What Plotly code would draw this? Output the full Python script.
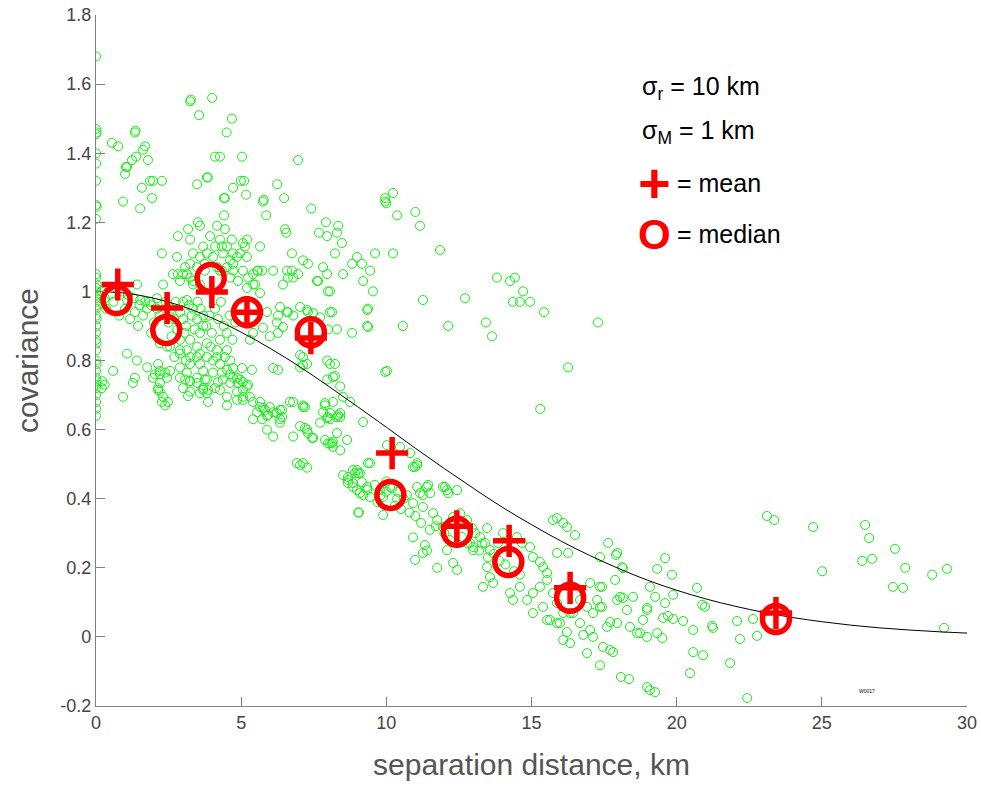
import plotly.graph_objects as go

# ---- scatter of individual covariance estimates (separation km, covariance) ----
pts = [
    # column at ~0 km
    (0.0, 1.68), (0.0, 1.47), (0.02, 1.46), (0.0, 1.455), (0.0, 1.40), (0.0, 1.37), (0.0, 1.32),
    (0.0, 1.25), (0.02, 1.245), (0.0, 1.21), (0.0, 1.05), (0.0, 1.04), (0.02, 1.02), (0.0, 1.01),
    (0.0, 1.00), (0.02, 0.99), (0.0, 0.98), (0.0, 0.97), (0.02, 0.96), (0.0, 0.95), (0.0, 0.93),
    (0.02, 0.92), (0.0, 0.90), (0.0, 0.88), (0.0, 0.86), (0.02, 0.85), (0.0, 0.83), (0.0, 0.80),
    (0.02, 0.79), (0.0, 0.77), (0.0, 0.75), (0.02, 0.74), (0.0, 0.73), (0.0, 0.72), (0.0, 0.70),
    (0.0, 0.68), (0.0, 0.66), (0.0, 0.64), (0.3, 0.73), (0.22, 0.74), (0.2, 0.72), (0.3, 0.98),
    (0.2, 1.0), (0.35, 0.95),
    # upper-left group
    (0.55, 1.43), (0.76, 1.42), (1.34, 1.46), (1.36, 1.465), (1.03, 1.36), (1.0, 1.34), (1.24, 1.38),
    (1.38, 1.39), (1.62, 1.41), (1.69, 1.42), (1.79, 1.38), (1.58, 1.30), (1.86, 1.32), (1.96, 1.32),
    (1.93, 1.27), (1.52, 1.24), (0.93, 1.26), (2.27, 1.32), (1.07, 1.36),
    # upper scattered
    (3.24, 1.55), (3.27, 1.555), (3.55, 1.51), (4.0, 1.56), (4.68, 1.50), (4.5, 1.46), (4.1, 1.39),
    (4.27, 1.39), (5.03, 1.39), (3.82, 1.33), (3.85, 1.33), (3.48, 1.31), (4.72, 1.30), (4.99, 1.32),
    (5.1, 1.32), (5.17, 1.28), (4.41, 1.27), (4.41, 1.22), (5.75, 1.26), (5.78, 1.265), (5.86, 1.22),
    (6.24, 1.31), (6.48, 1.27), (6.96, 1.38), (7.41, 1.24), (6.51, 1.18), (7.92, 1.20), (7.68, 1.17),
    (7.96, 1.16), (8.34, 1.19), (8.3, 1.17), (8.47, 1.14), (6.55, 1.17), (9.61, 1.11), (9.96, 1.27),
    (8.23, 1.11), (8.99, 1.10), (8.82, 1.08), (6.75, 1.11), (7.13, 1.09), (7.3, 1.08), (7.82, 1.07),
    (7.96, 1.05), (8.51, 1.05), (9.16, 1.08), (9.44, 1.06), (9.2, 1.03), (9.54, 1.00), (7.65, 1.03),
    (7.99, 1.00), (6.75, 1.06), (6.96, 1.05), (6.1, 1.06), (6.44, 1.02), (6.61, 1.04), (9.37, 0.95),
    (8.06, 0.94), (8.13, 0.94), (7.3, 0.94), (6.58, 0.94), (6.27, 0.93), (4.44, 1.27),
    # right scattered
    (10.23, 1.285), (9.96, 1.26), (10.0, 1.255), (10.37, 1.22), (11.0, 1.23), (11.16, 1.19),
    (10.23, 1.11), (11.85, 1.12), (11.26, 0.975), (12.71, 0.98), (13.81, 1.04), (14.26, 1.03),
    (14.43, 1.04), (14.71, 1.00), (14.36, 0.97), (14.6, 0.97), (14.95, 0.97), (15.43, 0.94),
    (10.57, 0.90), (12.13, 0.90), (13.43, 0.91), (17.29, 0.91), (13.64, 0.87), (16.26, 0.78),
    (15.3, 0.66), (10.02, 0.77),
    # dense group 2.6-6 km, 1.0-1.2
    (3.51, 1.20), (3.58, 1.19), (4.17, 1.19), (4.44, 1.18), (3.17, 1.18), (2.82, 1.16), (3.24, 1.15),
    (3.93, 1.16), (4.27, 1.15), (4.68, 1.15), (5.06, 1.14), (5.2, 1.15), (5.65, 1.13), (3.69, 1.13),
    (4.1, 1.13), (4.34, 1.13), (4.51, 1.13), (4.72, 1.11), (4.96, 1.11), (5.13, 1.13), (3.34, 1.11),
    (3.58, 1.10), (3.82, 1.11), (4.03, 1.10), (4.37, 1.11), (4.62, 1.09), (4.86, 1.10), (5.2, 1.10),
    (2.27, 1.11), (2.79, 1.10), (3.24, 1.08), (3.07, 1.07), (3.48, 1.07), (3.75, 1.08), (4.17, 1.07),
    (4.51, 1.07), (4.72, 1.08), (5.06, 1.06), (5.41, 1.05), (5.58, 1.06), (5.72, 1.06), (2.65, 1.05),
    (2.82, 1.05), (3.0, 1.05), (3.24, 1.04), (3.75, 1.06), (3.34, 1.02), (3.58, 1.02), (4.34, 1.06),
    (4.62, 1.04), (4.89, 1.03), (5.24, 1.04), (5.48, 1.02), (1.41, 1.02),
    # 0-9 km, 0.55-1.05
    (2.31, 1.02), (1.07, 0.975), (1.52, 0.975), (1.86, 0.97), (1.34, 0.94), (1.62, 0.93), (1.76, 0.95),
    (2.1, 0.95), (1.17, 0.92), (1.45, 0.90), (2.89, 1.03), (3.13, 1.05), (3.34, 1.03), (3.13, 0.975),
    (3.34, 0.95), (3.0, 0.92), (3.48, 0.92), (3.69, 0.90), (3.99, 0.88), (3.58, 0.88), (3.24, 0.86),
    (2.89, 0.86), (2.45, 0.84), (2.2, 0.85), (2.89, 0.83), (3.48, 0.84), (3.82, 0.85), (4.27, 0.86),
    (4.17, 0.83), (4.51, 0.83), (3.48, 0.81), (3.82, 0.81), (3.24, 0.79), (3.58, 0.79), (4.03, 0.80),
    (4.27, 0.79), (4.62, 0.80), (1.07, 0.82), (0.59, 0.77), (1.41, 0.80), (1.76, 0.78), (1.34, 0.75),
    (1.27, 0.735), (0.93, 0.695), (1.96, 0.75), (2.2, 0.77), (2.45, 0.75), (2.2, 0.735), (2.14, 0.715),
    (2.31, 0.695), (2.27, 0.68), (2.38, 0.67), (2.48, 0.68), (2.89, 0.75), (3.24, 0.74), (3.0, 0.72),
    (3.48, 0.735), (3.82, 0.745), (4.03, 0.765), (3.24, 0.71), (3.69, 0.715), (3.82, 0.705),
    (3.86, 0.68), (4.37, 0.745), (4.27, 0.715), (4.62, 0.735), (4.72, 0.75), (4.51, 0.695),
    (4.96, 0.745), (5.2, 0.725), (5.06, 0.695), (5.41, 0.68), (5.65, 0.665), (5.82, 0.657),
    (5.55, 0.65), (5.89, 0.64), (5.72, 0.63), (6.1, 0.65), (6.34, 0.657), (6.34, 0.63), (6.44, 0.897),
    (6.79, 0.93), (6.23, 0.91), (5.75, 0.895), (5.41, 0.88), (5.3, 0.86), (5.99, 0.87), (6.27, 0.88),
    (5.89, 0.94), (6.34, 0.955), (6.61, 0.94), (7.03, 0.955), (7.72, 0.925), (7.99, 0.89), (8.3, 0.89),
    (8.82, 0.88), (9.34, 0.90), (9.34, 0.946), (8.06, 1.00), (7.61, 1.03), (6.79, 1.04), (6.58, 1.06),
    (5.55, 1.06), (5.2, 1.01), (5.41, 1.02), (5.65, 0.995), (4.72, 1.06), (4.27, 1.06), (7.27, 0.946),
    (7.48, 0.937), (7.03, 0.78), (7.13, 0.81), (7.27, 0.79), (7.96, 0.80), (8.06, 0.79), (8.23, 0.755),
    (7.96, 0.745), (8.41, 0.725), (8.51, 0.695), (8.16, 0.68), (8.75, 0.68), (9.2, 0.622),
    (8.41, 0.636), (7.96, 0.633), (7.72, 0.62), (7.27, 0.60), (7.03, 0.61), (6.68, 0.68), (7.13, 0.67),
    (6.34, 0.62), (6.79, 0.58), (6.1, 0.58), (5.89, 0.60), (5.41, 0.63), (8.3, 0.59), (8.16, 0.565),
    (7.99, 0.56), (8.65, 0.57),
    (2.14, 0.79), (2.03, 0.76), (2.2, 0.76), (2.38, 0.765), (2.55, 0.77), (2.14, 0.72), (2.2, 0.71),
    (2.89, 0.82), (3.13, 0.83), (3.24, 0.81), (3.58, 0.82), (2.89, 0.78), (3.13, 0.765), (3.07, 0.745),
    (3.24, 0.74), (3.48, 0.75), (3.69, 0.77), (3.75, 0.745), (3.69, 0.72), (3.86, 0.715), (3.58, 0.705),
    (3.17, 0.697), (4.1, 0.72), (4.2, 0.737), (4.34, 0.765), (4.51, 0.773), (4.44, 0.81), (4.17, 0.81),
    (4.62, 0.76), (4.86, 0.75), (4.89, 0.735), (5.06, 0.738), (5.24, 0.73), (5.06, 0.715), (4.86, 0.71),
    (4.51, 0.67), (4.86, 0.686), (5.06, 0.686), (5.3, 0.695), (5.37, 0.773), (5.03, 0.778),
    (4.72, 0.778), (5.65, 0.68), (5.75, 0.663), (5.92, 0.642), (5.99, 0.665), (6.23, 0.648),
    (6.41, 0.657), (6.41, 0.636), (6.79, 0.68), (7.13, 0.665), (7.44, 0.576), (7.89, 0.57),
    (8.06, 0.56), (8.16, 0.55), (8.41, 0.54), (7.89, 0.67), (7.82, 0.65), (7.99, 0.636), (8.06, 0.63),
    (8.34, 0.642), (8.41, 0.648), (6.92, 0.503), (7.03, 0.497), (7.27, 0.49), (8.51, 0.468),
    (8.68, 0.463), (8.68, 0.445), (8.92, 0.474), (8.99, 0.483), (9.09, 0.474), (9.37, 0.503),
    (8.85, 0.434), (8.99, 0.425), (9.09, 0.416), (9.2, 0.41), (9.44, 0.405), (9.34, 0.425),
    (9.06, 0.36), (9.89, 0.353), (10.02, 0.555), (6.1, 0.778), (6.27, 0.773), (7.03, 0.816),
    (7.13, 0.787), (8.23, 0.79), (8.16, 0.752), (9.37, 0.897), (9.96, 0.767),
    # extra dense near curve
    (2.6, 0.95), (2.7, 0.92), (2.9, 0.94), (3.0, 0.97), (3.1, 0.90), (3.3, 0.93), (3.4, 0.89),
    (3.6, 0.95), (3.7, 0.93), (3.8, 0.90), (4.1, 0.95), (4.2, 0.92), (4.4, 0.90), (4.6, 0.93),
    (4.8, 0.91), (2.4, 0.97), (2.2, 0.93), (2.0, 0.91), (1.9, 0.88), (2.6, 0.87), (2.8, 0.89),
    (0.5, 0.99), (0.6, 0.97), (0.9, 1.0), (1.1, 0.99), (1.3, 0.98), (1.5, 0.96), (1.7, 0.97),
    (1.9, 0.96), (2.1, 0.98), (1.0, 0.95), (0.8, 0.93),
    (2.5, 0.91), (2.75, 0.97), (3.05, 0.88), (3.2, 0.96), (3.5, 0.97), (3.9, 0.93), (4.3, 0.97),
    (4.5, 0.88), (4.7, 0.86), (3.95, 0.84), (3.1, 0.80), (2.7, 0.81), (2.55, 0.84),
    # 7-19 km band
    (7.2, 0.665), (7.89, 0.677), (8.06, 0.648), (8.3, 0.636), (7.2, 0.605), (7.3, 0.59), (7.48, 0.576),
    (8.13, 0.56), (7.13, 0.503), (8.85, 0.483), (9.03, 0.474), (8.68, 0.454), (8.85, 0.445),
    (9.16, 0.448), (9.34, 0.434), (9.44, 0.503), (9.03, 0.36), (9.78, 0.425), (10.13, 0.434),
    (10.37, 0.40), (9.89, 0.405), (10.71, 0.41), (11.06, 0.434), (10.99, 0.492), (11.06, 0.503),
    (11.4, 0.434), (11.51, 0.416), (10.92, 0.387), (11.26, 0.376), (10.92, 0.288), (10.99, 0.223),
    (11.33, 0.266), (11.4, 0.25), (11.26, 0.243), (11.75, 0.20), (11.95, 0.434), (12.09, 0.425),
    (11.61, 0.358), (11.75, 0.338), (11.95, 0.318), (12.3, 0.347), (12.54, 0.358), (12.78, 0.338),
    (12.95, 0.315), (13.06, 0.30), (13.23, 0.289), (13.47, 0.315), (13.4, 0.272), (12.88, 0.272),
    (12.99, 0.251), (12.44, 0.194), (12.3, 0.214), (12.09, 0.251), (13.57, 0.251), (13.85, 0.272),
    (14.02, 0.30), (14.5, 0.289), (14.67, 0.272), (14.95, 0.26), (15.05, 0.231), (15.29, 0.217),
    (15.4, 0.202), (15.54, 0.185), (13.47, 0.202), (13.57, 0.173), (13.68, 0.156), (13.33, 0.145),
    (14.26, 0.127), (14.36, 0.107), (14.6, 0.145), (14.85, 0.107), (15.05, 0.127), (15.29, 0.145),
    (15.54, 0.165), (15.74, 0.127), (15.88, 0.098), (16.09, 0.069), (15.4, 0.087), (15.05, 0.069),
    (15.54, 0.049), (15.98, 0.04), (15.74, 0.338), (15.88, 0.344), (16.22, 0.318), (16.5, 0.295),
    (15.88, 0.243), (16.26, 0.243), (17.36, 0.231), (17.43, 0.145), (17.64, 0.272), (17.95, 0.243),
    (18.12, 0.202), (17.88, 0.165), (18.05, 0.116), (18.29, 0.078), (18.5, 0.116), (18.39, 0.029),
    (17.95, 0.04), (17.6, 0.029), (17.12, 0.069), (16.91, 0.087), (16.67, 0.107), (17.36, 0.087),
    (18.84, 0.049), (18.98, 0.078), (18.74, 0.011), (17.02, 0.02), (16.43, 0.069),
    (10.0, 0.42), (10.3, 0.38), (10.5, 0.37), (10.8, 0.36), (11.0, 0.35), (11.2, 0.33), (11.5, 0.31),
    (11.7, 0.32), (12.0, 0.30), (12.2, 0.28), (12.6, 0.29), (12.8, 0.27), (13.0, 0.26), (13.2, 0.25),
    (13.3, 0.27), (13.5, 0.23), (13.7, 0.24), (13.9, 0.22), (14.1, 0.21), (14.4, 0.19), (14.6, 0.18),
    (9.6, 0.44), (9.8, 0.41), (10.0, 0.45), (10.2, 0.43), (10.4, 0.42), (10.6, 0.40), (9.7, 0.39),
    (10.47, 0.55), (10.82, 0.532), (10.92, 0.492), (11.06, 0.497), (11.44, 0.44), (12.02, 0.434),
    (12.44, 0.425), (12.13, 0.416), (11.16, 0.416), (11.26, 0.41),
    # 16-30 km
    (16.09, 0.33), (17.91, 0.237), (18.15, 0.199), (19.6, 0.228), (19.33, 0.197), (19.84, 0.18),
    (20.7, 0.142), (20.88, 0.093), (20.98, 0.087), (19.88, 0.122), (19.6, 0.098), (19.26, 0.116),
    (19.08, 0.145), (19.53, 0.055), (19.7, 0.061), (19.88, 0.052), (20.22, 0.046), (20.57, 0.02),
    (21.22, 0.032), (21.25, 0.026), (22.08, 0.046), (22.63, 0.052), (22.77, 0.003), (22.18, -0.006),
    (20.57, -0.044), (20.91, -0.053), (21.84, -0.076), (20.46, -0.105), (22.43, -0.177),
    (23.11, 0.35), (23.36, 0.338), (24.7, 0.318), (25.01, 0.19), (26.49, 0.324), (26.63, 0.286),
    (26.39, 0.22), (26.73, 0.226), (27.52, 0.255), (27.87, 0.2), (27.45, 0.145), (27.8, 0.142),
    (28.8, 0.18), (29.31, 0.197), (29.21, 0.026), (16.09, -0.009), (16.33, -0.018), (16.91, -0.047),
    (17.36, -0.082), (18.08, -0.116), (18.36, -0.122), (18.98, -0.145), (19.08, -0.154),
    (19.26, -0.16), (17.71, -0.038), (17.81, -0.044), (17.46, -0.029), (17.12, 0.0), (16.78, 0.006),
    (16.22, 0.014), (16.67, 0.04), (16.33, 0.069), (15.88, 0.04), (15.64, 0.049), (18.98, 0.084),
    (18.64, 0.011), (18.98, 0.0), (19.5, -0.003), (19.33, 0.011), (17.71, 0.043), (17.43, 0.087),
    (17.26, 0.107), (17.95, 0.107), (18.15, 0.113), (17.36, 0.145), (17.02, 0.156),
]
sep_km = [p[0] for p in pts]
cov = [p[1] for p in pts]

# ---- model curve (sigma_r = 10 km), values read at 1 km steps ----
model_x = list(range(0, 31))
model_y = [1.0, 0.995, 0.980, 0.956, 0.923, 0.882, 0.835, 0.783, 0.726, 0.667, 0.607,
           0.546, 0.487, 0.430, 0.375, 0.325, 0.278, 0.236, 0.198, 0.164, 0.135,
           0.110, 0.089, 0.071, 0.056, 0.044, 0.034, 0.026, 0.020, 0.015, 0.011]

# ---- binned mean and median ----
bin_x_mean = [0.75, 2.45, 3.99, 5.2, 7.4, 10.2, 12.43, 14.23, 16.33, 23.42]
mean_y = [1.02, 0.952, 0.998, 0.94, 0.865, 0.532, 0.32, 0.278, 0.142, 0.069]
bin_x_median = [0.71, 2.42, 3.95, 5.2, 7.4, 10.14, 12.43, 14.2, 16.33, 23.42]
median_y = [0.975, 0.888, 1.039, 0.94, 0.882, 0.411, 0.304, 0.217, 0.113, 0.052]

x_ticks = [0, 5, 10, 15, 20, 25, 30]
y_ticks = [-0.2, 0, 0.2, 0.4, 0.6, 0.8, 1.0, 1.2, 1.4, 1.6, 1.8]
y_tick_text = ["-0.2", "0", "0.2", "0.4", "0.6", "0.8", "1", "1.2", "1.4", "1.6", "1.8"]

FONT = "Liberation Sans, Arial, sans-serif"
RED = "#ff0000"

fig = go.Figure()
fig.add_trace(go.Scatter(
    x=sep_km, y=cov, mode="markers",
    marker=dict(symbol="circle-open", size=9, color="#11ee11", line=dict(width=1, color="#11ee11")),
    showlegend=False, hoverinfo="skip"))
fig.add_trace(go.Scatter(
    x=model_x, y=model_y, mode="lines", line=dict(color="black", width=1, shape="spline"),
    showlegend=False, hoverinfo="skip"))
fig.add_trace(go.Scatter(
    x=bin_x_median, y=median_y, mode="markers",
    marker=dict(symbol="circle-open", size=27, color=RED, line=dict(width=5.5, color=RED)),
    showlegend=False))
fig.add_trace(go.Scatter(
    x=bin_x_mean, y=mean_y, mode="markers",
    marker=dict(symbol="cross-thin-open", size=23, color=RED, line=dict(width=5.5, color=RED)),
    showlegend=False))

axis_common = dict(
    showline=True, linecolor="#808080", linewidth=1.3, mirror=False,
    ticks="inside", ticklen=9, tickcolor="#808080", tickwidth=1.2,
    showgrid=False, zeroline=False, automargin=False,
    tickfont=dict(family=FONT, size=18, color="#444444"),
)

fig.update_layout(
    width=981, height=788,
    margin=dict(l=96, r=14, t=15, b=82),
    paper_bgcolor="white", plot_bgcolor="white",
    xaxis=dict(range=[0, 30], tickvals=x_ticks, ticktext=[str(v) for v in x_ticks],
               title=dict(text="separation distance, km", standoff=22,
                          font=dict(family=FONT, size=30, color="#555555")),
               **axis_common),
    yaxis=dict(range=[-0.2, 1.8], tickvals=y_ticks, ticktext=y_tick_text,
               title=dict(text="covariance", standoff=12,
                          font=dict(family=FONT, size=30, color="#555555")),
               **axis_common),
    showlegend=False,
)

ann_font = dict(family=FONT, size=25, color="black")
fig.add_annotation(xref="paper", yref="paper", x=0.625, y=0.894, xanchor="left", yanchor="middle",
                   text="σ<sub>r</sub> = 10 km", showarrow=False, font=ann_font)
fig.add_annotation(xref="paper", yref="paper", x=0.625, y=0.831, xanchor="left", yanchor="middle",
                   text="σ<sub>M</sub> = 1 km", showarrow=False, font=ann_font)
fig.add_annotation(xref="paper", yref="paper", x=0.62, y=0.757, xanchor="left", yanchor="middle",
                   text="<b>+</b>", showarrow=False, font=dict(family=FONT, size=56, color=RED))
fig.add_annotation(xref="paper", yref="paper", x=0.665, y=0.757, xanchor="left", yanchor="middle",
                   text="= mean", showarrow=False, font=ann_font)
fig.add_annotation(xref="paper", yref="paper", x=0.62, y=0.683, xanchor="left", yanchor="middle",
                   text="<b>O</b>", showarrow=False, font=dict(family=FONT, size=42, color=RED))
fig.add_annotation(xref="paper", yref="paper", x=0.665, y=0.683, xanchor="left", yanchor="middle",
                   text="= median", showarrow=False, font=ann_font)
fig.add_annotation(xref="paper", yref="paper", x=0.885, y=0.022, xanchor="center", yanchor="middle",
                   text="W0017", showarrow=False, font=dict(family=FONT, size=5, color="black"))

fig.write_html("out.html", config={"displayModeBar": False},
               post_script="document.body.style.margin='0';")
